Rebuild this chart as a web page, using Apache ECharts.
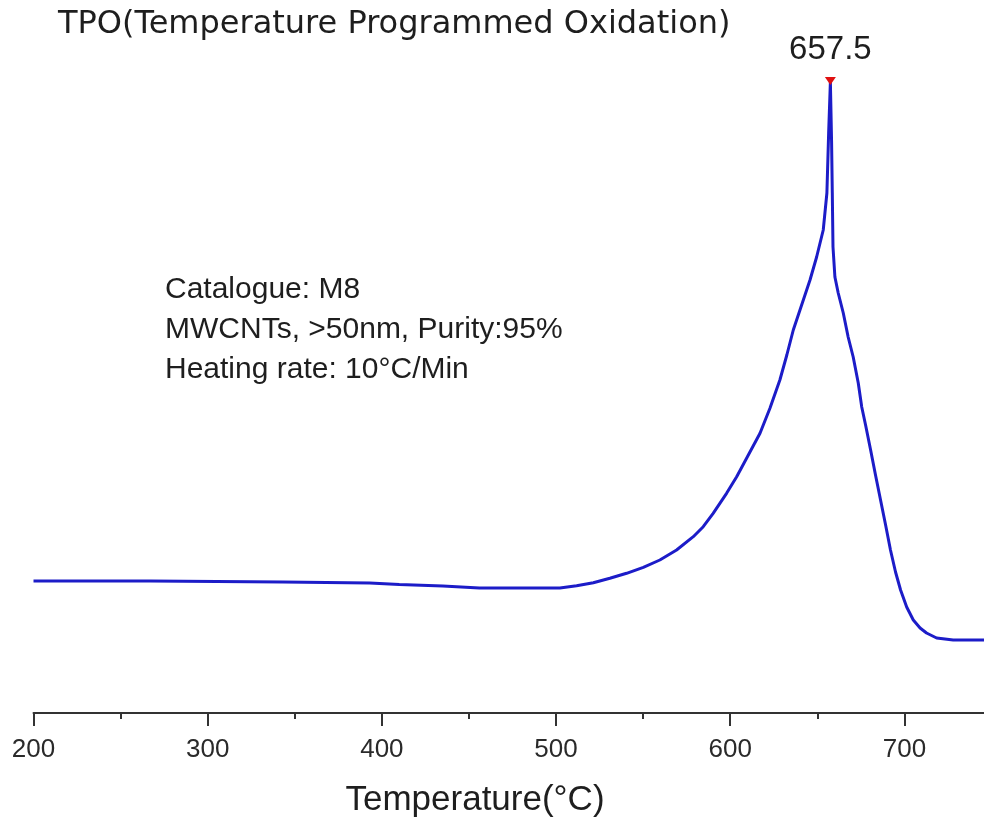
<!DOCTYPE html>
<html>
<head>
<meta charset="utf-8">
<script src="https://cdn.jsdelivr.net/npm/echarts@6/dist/echarts.min.js"></script>
<style>html,body{margin:0;padding:0;background:#fff}#c{width:984px;height:821px}</style>
</head>
<body>
<div id="c"></div>
<script>
// Temperature (°C)
const temperature = [200, 267, 343, 393, 410, 435, 456, 480, 502.2, 511.8, 521.4, 530.9, 540.5, 550.1, 559.6, 569.2, 578.8, 584.5, 590.2, 597.9, 603.7, 609.4, 617.1, 622.8, 628.5, 632.5, 636.2, 641.0, 645.8, 649.6, 653.4, 655.5, 656.5, 657.5, 658.2, 658.6, 659.0, 660.1, 662.0, 664.9, 667.7, 670.6, 673.5, 675.5, 677.7, 680.6, 683.4, 686.3, 689.2, 692.0, 694.9, 697.8, 701.3, 705.1, 709.0, 712.7, 718.5, 728.0, 750];
// TPO signal (arbitrary units)
const signal = [132, 132, 131, 130, 128.5, 127, 125, 125, 125, 127.3, 130.3, 134.7, 139.7, 145.7, 153, 163, 176.3, 186.3, 199.7, 219.7, 236.3, 254.7, 279.7, 304.7, 333, 358, 383, 408, 433, 456, 483, 520, 580, 631, 570, 520, 466, 436, 420, 400, 376, 356, 330, 306, 288, 263, 238, 213, 188, 163, 141, 123, 106, 93, 85, 80, 75, 73, 73];
const peakTemp = 657.5;
const peakSignal = 631;
const peakLabel = '657.5';
const xTicks = [200, 300, 400, 500, 600, 700];
const titleText = 'TPO(Temperature Programmed Oxidation)';
const axisName = 'Temperature(°C)';
const infoLines = ['Catalogue: M8', 'MWCNTs, >50nm, Purity:95%', 'Heating rate: 10°C/Min'];

const chart = echarts.init(document.getElementById('c'), null, {renderer: 'canvas'});
const font = 'Liberation Sans, Arial, sans-serif';
const data = temperature.map((t, i) => [t, signal[i]]);

chart.setOption({
  backgroundColor: '#ffffff',
  animation: false,
  grid: {left: 33.5, width: 958, top: 82, bottom: 108, containLabel: false, outerBoundsMode: 'none'},
  xAxis: {
    type: 'value', min: 200, max: 750, interval: 100,
    axisLine: {show: true, lineStyle: {color: '#333', width: 2}},
    axisTick: {show: true, length: 13, lineStyle: {color: '#333', width: 2}},
    minorTick: {show: true, splitNumber: 2, length: 6, lineStyle: {color: '#333', width: 2}},
    splitLine: {show: false},
    axisLabel: {
      color: '#2a2a2a', fontSize: 26, fontFamily: font, margin: 24,
      formatter: v => xTicks.indexOf(v) >= 0 ? String(v) : ''
    },
    name: axisName, nameLocation: 'middle', nameGap: 70,
    nameTextStyle: {color: '#1e1e1e', fontSize: 35, fontFamily: font, padding: [0, 75, 0, 0]}
  },
  yAxis: {type: 'value', min: 0, max: 631, show: false, splitLine: {show: false}},
  series: [{
    type: 'line', data: data, showSymbol: false, smooth: false,
    lineStyle: {color: '#1c1cc8', width: 3},
    markPoint: {
      symbol: 'triangle', symbolSize: [11, 8], symbolRotate: 180, symbolOffset: [0, -1],
      itemStyle: {color: '#e01010'},
      label: {show: true, position: 'top', distance: 11, color: '#1e1e1e', fontSize: 33, fontFamily: font, formatter: peakLabel},
      data: [{coord: [peakTemp, peakSignal]}]
    }
  }],
  graphic: [
    {type: 'text', left: 58, top: 9, style: {text: titleText, fontSize: 32, fontFamily: 'DejaVu Sans, sans-serif', fill: '#1e1e1e'}},
    {type: 'text', left: 165, top: 270, style: {text: infoLines.join('\n'), fontSize: 30, lineHeight: 40, fontFamily: font, fill: '#1e1e1e'}}
  ]
});
</script>
</body>
</html>
